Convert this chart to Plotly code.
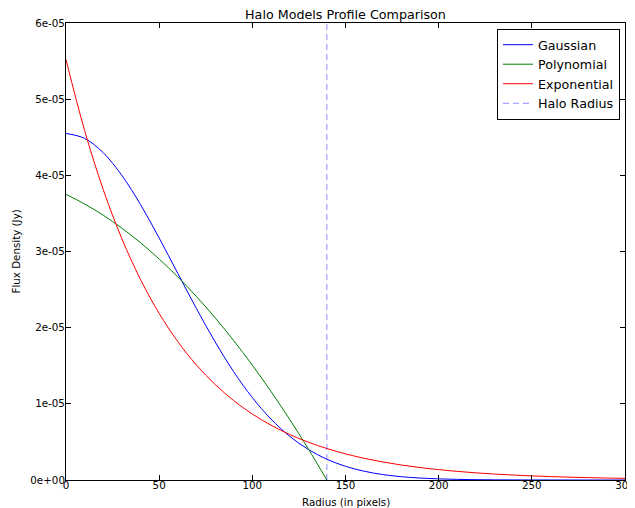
import plotly.graph_objects as go

# Data (in Jy)
radius = [0, 10, 20, 30, 40, 50, 60, 70, 80, 90, 100, 110, 120, 130, 140, 150,
          160, 170, 180, 190, 200, 210, 220, 230, 240, 250, 260, 270, 280, 290, 300]
gaussian = [4.55e-5, 4.485e-5, 4.296e-5, 3.998e-5, 3.616e-5, 3.177e-5, 2.713e-5,
            2.251e-5, 1.815e-5, 1.421e-5, 1.082e-5, 0.800e-5, 0.575e-5, 0.402e-5,
            0.2725e-5, 0.1797e-5, 0.1151e-5, 0.0717e-5, 0.0433e-5, 0.0255e-5,
            0.01456e-5, 0.0081e-5, 0.00436e-5, 0.00228e-5, 0.00116e-5, 0.0006e-5,
            0.0003e-5, 0.00013e-5, 0.00006e-5, 0.00003e-5, 0.00001e-5]
exponential = [5.52e-5, 4.587e-5, 3.812e-5, 3.167e-5, 2.632e-5, 2.187e-5, 1.817e-5,
               1.510e-5, 1.255e-5, 1.043e-5, 0.866e-5, 0.720e-5, 0.598e-5, 0.497e-5,
               0.413e-5, 0.343e-5, 0.285e-5, 0.237e-5, 0.197e-5, 0.1636e-5,
               0.1359e-5, 0.1130e-5, 0.0939e-5, 0.0780e-5, 0.0648e-5, 0.0539e-5,
               0.0448e-5, 0.0372e-5, 0.0309e-5, 0.0257e-5, 0.0213e-5]
poly_radius = [0, 10, 20, 30, 40, 50, 60, 70, 80, 90, 100, 110, 120, 130, 140]
polynomial = [3.75e-5, 3.624e-5, 3.476e-5, 3.306e-5, 3.115e-5, 2.901e-5, 2.666e-5,
              2.409e-5, 2.131e-5, 1.830e-5, 1.508e-5, 1.163e-5, 0.797e-5, 0.410e-5, 0.0]
halo_radius = 140
halo_y = [0, 6e-5]

x_ticks = [0, 50, 100, 150, 200, 250, 300]
y_ticks = [0, 1e-5, 2e-5, 3e-5, 4e-5, 5e-5, 6e-5]
y_tick_labels = ["0e+00", "1e-05", "2e-05", "3e-05", "4e-05", "5e-05", "6e-05"]

FONT = "DejaVu Sans, Liberation Sans, sans-serif"

fig = go.Figure()
fig.add_trace(go.Scatter(x=radius, y=gaussian, mode="lines", name="Gaussian",
                         line=dict(color="#0000ff", width=1, shape="spline")))
fig.add_trace(go.Scatter(x=poly_radius, y=polynomial, mode="lines", name="Polynomial",
                         line=dict(color="#008000", width=1, shape="spline")))
fig.add_trace(go.Scatter(x=radius, y=exponential, mode="lines", name="Exponential",
                         line=dict(color="#ff0000", width=1, shape="spline")))
fig.add_trace(go.Scatter(x=[halo_radius, halo_radius], y=halo_y, mode="lines",
                         name="Halo Radius",
                         line=dict(color="rgba(0,0,255,0.45)", width=1, dash="6px,4px")))

axis_common = dict(showline=True, linecolor="black", linewidth=1, mirror="allticks",
                   ticks="inside", ticklen=5, tickcolor="black", showgrid=False,
                   zeroline=False, automargin=False, ticklabeloverflow="allow",
                   tickfont=dict(family=FONT, size=10.3, color="black"))

fig.update_layout(
    width=635, height=500,
    margin=dict(l=58, r=18, t=15, b=28),
    paper_bgcolor="white", plot_bgcolor="white",
    font=dict(family=FONT, color="black"),
    title=dict(text="Halo Models Profile Comparison", x=0.5, xanchor="center",
               xref="paper", y=1 - 7 / 500, yanchor="middle", yref="container",
               font=dict(family=FONT, size=12.7, color="black")),
    xaxis=dict(range=[0, 300], tickvals=x_ticks, ticklabelstandoff=-4, **axis_common),
    yaxis=dict(range=[0, 6e-5], tickvals=y_ticks, ticktext=y_tick_labels,
               ticklabelstandoff=-2, **axis_common),
    legend=dict(x=0.991, y=0.987, xanchor="right", yanchor="top",
                bgcolor="white", bordercolor="black", borderwidth=1,
                font=dict(family=FONT, size=12.7, color="black"),
                tracegroupgap=0, itemwidth=30),
    showlegend=True,
    annotations=[
        dict(text="Radius (in pixels)", xref="paper", yref="paper", x=0.5, y=-0.0475,
             xanchor="center", yanchor="middle", showarrow=False,
             font=dict(family=FONT, size=10.3, color="black")),
        dict(text="Flux Density (Jy)", xref="paper", yref="paper", x=-0.0912, y=0.5,
             xanchor="center", yanchor="middle", textangle=-90, showarrow=False,
             font=dict(family=FONT, size=10.3, color="black")),
    ],
)

fig.write_html("out.html")
